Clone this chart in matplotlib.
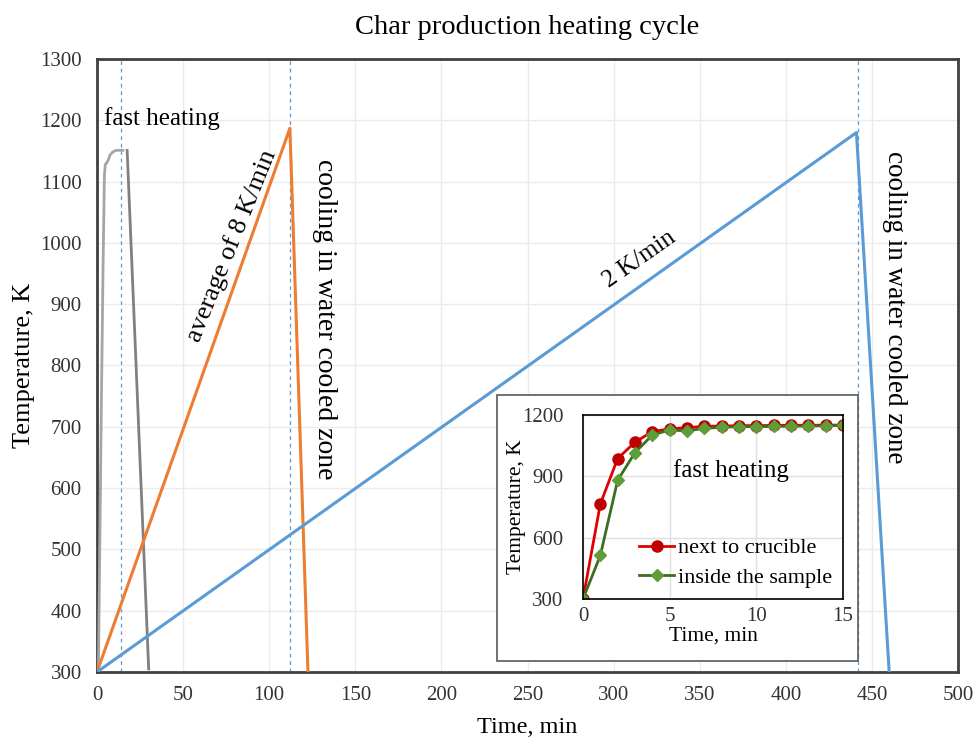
import matplotlib
matplotlib.use("Agg")
import matplotlib.pyplot as plt
from matplotlib.patches import Rectangle

plt.rcParams['font.family'] = ['Liberation Serif', 'DejaVu Serif']

# === Данные основного графика ===
fast_t = [0.8, 1.5, 2.5, 3.5, 4.3, 4.8, 5.5, 6.5, 7.5, 9, 11, 13, 15]
fast_T = [300, 480, 730, 960, 1110, 1128, 1130, 1135, 1143, 1148, 1151, 1151, 1151]
fast_cool_t = [17.5, 30]
fast_cool_T = [1151, 305]

avg8_t = [0, 112, 122.5]
avg8_T = [300, 1187, 300]

slow_t = [0, 441, 460]
slow_T = [300, 1180, 300]

vlines_t = [14, 112, 442]

# === Данные вставки ===
inset_t = list(range(16))
crucible_T = [300, 765, 987, 1067, 1119, 1132, 1138, 1145, 1146, 1148, 1148, 1149, 1150, 1150, 1150, 1151]
sample_T = [300, 513, 881, 1016, 1102, 1127, 1122, 1135, 1140, 1143, 1143, 1144, 1145, 1146, 1147, 1150]

fig = plt.figure(figsize=(9.79, 7.44), dpi=100)
ax = fig.add_axes([0.0991, 0.0968, 0.8795, 0.8239])

frame_col = "#404040"
grid_col = "#EBEBEB"

for t in vlines_t:
    ax.axvline(t, color="#5B9BD5", lw=0.9, ls=(0, (3, 3)), zorder=1)

ax.plot(fast_t, fast_T, color="#A5A5A5", lw=2, zorder=3)
ax.plot(fast_cool_t, fast_cool_T, color="#808080", lw=2, zorder=3)
ax.plot(avg8_t, avg8_T, color="#ED7D31", lw=2.2, zorder=3)
ax.plot(slow_t, slow_T, color="#5B9BD5", lw=2.2, zorder=3)

ax.set_xlim(0, 500)
ax.set_ylim(300, 1300)
ax.set_xticks(range(0, 501, 50))
ax.set_yticks(range(300, 1301, 100))
ax.grid(True, color=grid_col, lw=1)
ax.set_axisbelow(True)
for s in ax.spines.values():
    s.set_color(frame_col)
    s.set_linewidth(2)
ax.tick_params(length=0, labelsize=15, colors="#333333")
ax.tick_params(axis="y", pad=11)
ax.tick_params(axis="x", pad=10)
ax.set_xlabel("Time, min", fontsize=17.5, labelpad=9)
ax.set_ylabel("Temperature, K", fontsize=19, labelpad=4)
ax.set_title("Char production heating cycle", fontsize=20.5, pad=18)

ax.text(4, 1203, "fast heating", fontsize=18, ha="left", va="center")
ax.text(78, 995, "average of 8 K/min", fontsize=19, rotation=68,
        ha="center", va="center", rotation_mode="anchor")
ax.text(132, 876, "cooling in water cooled zone", fontsize=20, rotation=-90,
        ha="center", va="center")
ax.text(463, 895, "cooling in water cooled zone", fontsize=19.5, rotation=-90,
        ha="center", va="center")
ax.text(315, 974, "2 K/min", fontsize=18, rotation=35,
        ha="center", va="center", rotation_mode="anchor")

# === Вставка ===
fig.patches.append(Rectangle((497 / 979, 1 - 661 / 744), 361 / 979, 266 / 744,
                             transform=fig.transFigure, facecolor="white",
                             edgecolor="#595959", lw=1.2, zorder=5))

ax_in = fig.add_axes([583 / 979, 1 - 599 / 744, 260 / 979, 184 / 744])
ax_in.set_zorder(6)
ax_in.plot(inset_t, crucible_T, color="#E00000", lw=2, marker="o", ms=8,
           mfc="#C00000", mec="#C00000", label="next to crucible")
ax_in.plot(inset_t, sample_T, color="#3B6E22", lw=2, marker="D", ms=6,
           mfc="#5E9E3A", mec="#5E9E3A", label="inside the sample")
ax_in.set_xlim(0, 15)
ax_in.set_ylim(300, 1200)
ax_in.set_xticks([0, 5, 10, 15])
ax_in.set_yticks([300, 600, 900, 1200])
ax_in.grid(True, color="#E0E0E0", lw=1)
ax_in.set_axisbelow(True)
for s in ax_in.spines.values():
    s.set_color("#000000")
    s.set_linewidth(1.2)
ax_in.tick_params(length=0, labelsize=15, colors="#333333")
ax_in.tick_params(axis="y", pad=14)
ax_in.tick_params(axis="x", pad=6)
ax_in.set_xlabel("Time, min", fontsize=15.5, labelpad=0)
ax_in.set_ylabel("Temperature, K", fontsize=15.5, labelpad=-3)
ax_in.text(5.2, 930, "fast heating", fontsize=18, ha="left", va="center")
ax_in.legend(loc="lower right", frameon=False, fontsize=16,
             handlelength=1.6, handletextpad=0.15, labelspacing=0.4,
             borderaxespad=0.1)

fig.savefig("out.png", dpi=100)
